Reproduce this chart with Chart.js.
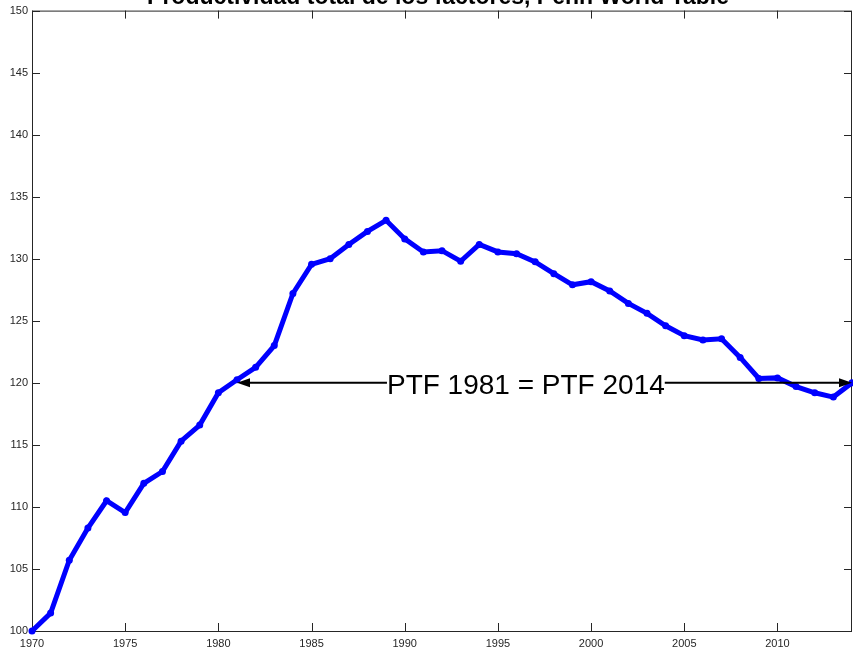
<!DOCTYPE html>
<html>
<head>
<meta charset="utf-8">
<script src="https://cdn.jsdelivr.net/npm/chart.js@4/dist/chart.umd.min.js"></script>
<style>
  html, body { margin: 0; padding: 0; background: #fff; }
  #wrap { width: 853px; height: 649px; position: relative; }
</style>
</head>
<body>
<div id="wrap"><canvas id="ptfChart"></canvas></div>
<script>
// data
var years = [1970, 1971, 1972, 1973, 1974, 1975, 1976, 1977, 1978, 1979,
             1980, 1981, 1982, 1983, 1984, 1985, 1986, 1987, 1988, 1989,
             1990, 1991, 1992, 1993, 1994, 1995, 1996, 1997, 1998, 1999,
             2000, 2001, 2002, 2003, 2004, 2005, 2006, 2007, 2008, 2009,
             2010, 2011, 2012, 2013, 2014];
var ptf = [100.0, 101.45, 105.7, 108.3, 110.5, 109.55, 111.9, 112.85, 115.3, 116.6,
           119.2, 120.25, 121.25, 123.0, 127.2, 129.55, 130.0, 131.15, 132.2, 133.1,
           131.6, 130.55, 130.65, 129.8, 131.15, 130.55, 130.4, 129.75, 128.8, 127.9,
           128.15, 127.4, 126.4, 125.6, 124.6, 123.8, 123.45, 123.55, 122.05, 120.35,
           120.4, 119.7, 119.2, 118.85, 120.0];
var xTicks = [1970, 1975, 1980, 1985, 1990, 1995, 2000, 2005, 2010];
var yTicks = [100, 105, 110, 115, 120, 125, 130, 135, 140, 145, 150];

var titleText = 'Productividad total de los factores, Penn World Table';
var noteText = 'PTF 1981 = PTF 2014';
var noteFrom = 1981, noteTo = 2014, noteLevel = 120;

var axisColor = '#262626';

// box, inward ticks and cropped title (MATLAB look)
var boxPlugin = {
    id: 'boxPlugin',
    beforeDatasetsDraw: function (chart) {
        var ctx = chart.ctx, a = chart.chartArea;
        var xs = chart.scales.x, ys = chart.scales.y;
        ctx.save();
        ctx.strokeStyle = axisColor;
        ctx.lineWidth = 1;
        ctx.strokeRect(a.left + 0.5, a.top + 0.5, a.right - a.left - 1, a.bottom - a.top);
        ctx.beginPath();
        xTicks.forEach(function (t) {
            var px = Math.round(xs.getPixelForValue(t)) + 0.5;
            ctx.moveTo(px, a.bottom); ctx.lineTo(px, a.bottom - 8);
            ctx.moveTo(px, a.top); ctx.lineTo(px, a.top + 8);
        });
        yTicks.forEach(function (t) {
            var py = Math.round(ys.getPixelForValue(t)) + 0.5;
            ctx.moveTo(a.left, py); ctx.lineTo(a.left + 8, py);
            ctx.moveTo(a.right, py); ctx.lineTo(a.right - 8, py);
        });
        ctx.stroke();

        ctx.fillStyle = '#000';
        ctx.font = 'bold 23px "Liberation Sans", Arial, sans-serif';
        ctx.textAlign = 'center';
        ctx.textBaseline = 'alphabetic';
        ctx.fillText(titleText, 438, 4);
        ctx.restore();
    },
    afterDatasetsDraw: function (chart) {
        var ctx = chart.ctx;
        var xs = chart.scales.x, ys = chart.scales.y;
        var x1 = xs.getPixelForValue(noteFrom);
        var x2 = xs.getPixelForValue(noteTo);
        var y = ys.getPixelForValue(noteLevel);
        ctx.save();
        ctx.font = '28px "Liberation Sans", Arial, sans-serif';
        var w = ctx.measureText(noteText).width;
        var cx = xs.getPixelForValue(1996.5);
        var tl = cx - w / 2, tr = cx + w / 2;
        ctx.fillStyle = '#000';
        ctx.textAlign = 'center';
        ctx.textBaseline = 'alphabetic';
        ctx.fillText(noteText, cx, y + 11);

        ctx.strokeStyle = '#000';
        ctx.lineWidth = 2;
        ctx.beginPath();
        ctx.moveTo(tl, y); ctx.lineTo(x1 + 10, y);
        ctx.moveTo(tr, y); ctx.lineTo(x2 - 10, y);
        ctx.stroke();
        ctx.beginPath();
        ctx.moveTo(x1, y); ctx.lineTo(x1 + 13, y - 4.5); ctx.lineTo(x1 + 13, y + 4.5); ctx.closePath();
        ctx.moveTo(x2, y); ctx.lineTo(x2 - 13, y - 4.5); ctx.lineTo(x2 - 13, y + 4.5); ctx.closePath();
        ctx.fillStyle = '#000';
        ctx.fill();
        ctx.restore();
    }
};

document.addEventListener('DOMContentLoaded', function () {
    var ctx = document.getElementById('ptfChart').getContext('2d');
    var ptfChart = new Chart(ctx, {
        type: 'line',
        data: {
            datasets: [{
                label: 'PTF',
                data: years.map(function (yr, i) { return { x: yr, y: ptf[i] }; }),
                borderColor: '#0000ff',
                backgroundColor: '#0000ff',
                borderWidth: 5,
                pointRadius: 3.5,
                pointBorderWidth: 0,
                pointBackgroundColor: '#0000ff',
                tension: 0,
                clip: false
            }]
        },
        options: {
            responsive: true,
            maintainAspectRatio: false,
            animation: false,
            layout: { autoPadding: false, padding: { top: 10, right: 1, left: 0, bottom: 0 } },
            plugins: {
                legend: { display: false },
                title: { display: false },
                tooltip: { enabled: false }
            },
            scales: {
                x: {
                    type: 'linear',
                    min: 1970,
                    max: 2014,
                    grid: { display: false, drawTicks: false },
                    border: { display: false },
                    afterBuildTicks: function (s) { s.ticks = xTicks.map(function (v) { return { value: v }; }); },
                    afterFit: function (s) { s.height = 18; },
                    ticks: {
                        padding: 6,
                        maxRotation: 0,
                        autoSkip: false,
                        color: axisColor,
                        font: { family: '"Liberation Sans", Arial, sans-serif', size: 11 },
                        callback: function (v) { return String(v); }
                    }
                },
                y: {
                    min: 100,
                    max: 150,
                    grid: { display: false, drawTicks: false },
                    border: { display: false },
                    afterBuildTicks: function (s) { s.ticks = yTicks.map(function (v) { return { value: v }; }); },
                    afterFit: function (s) { s.width = 32; },
                    ticks: {
                        padding: 4,
                        autoSkip: false,
                        color: axisColor,
                        font: { family: '"Liberation Sans", Arial, sans-serif', size: 11 },
                        callback: function (v) { return String(v); }
                    }
                }
            }
        },
        plugins: [boxPlugin]
    });
});
</script>
</body>
</html>
